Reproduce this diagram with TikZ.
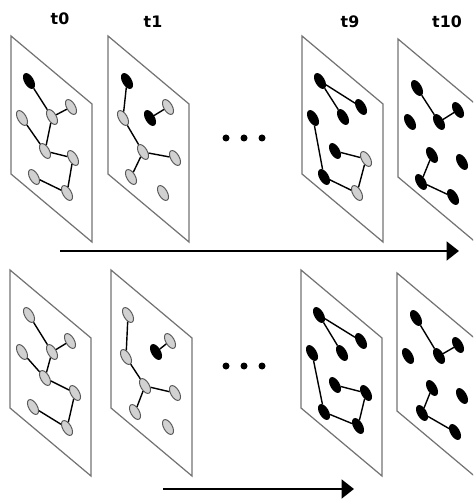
\documentclass[tikz,border=0pt]{standalone}
\usepackage{fontspec}
\setsansfont{DejaVu Sans}
\usetikzlibrary{shapes.geometric,arrows.meta}

\tikzset{
    frame/.style={draw=black!55, line width=0.7pt},
    gnode/.style={ellipse, draw=black!65, fill=black!18, line width=0.55pt,
        minimum width=0.17cm, minimum height=0.33cm, inner sep=0pt, rotate=30},
    bnode/.style={gnode, draw=black, fill=black},
    link/.style={line width=0.8pt},
    lbl/.style={font=\sffamily\bfseries\fontsize{9}{10}\selectfont},
    timearrow/.style={line width=1.7pt, -{Triangle[length=7pt,width=10.5pt]}}
}

\begin{document}
\begin{tikzpicture}[x=0.02cm, y=-0.02cm]

% Parameters
\def\panelW{81}          % Horizontal run of a panel
\def\panelD{68}          % Drop of the top edge
\def\panelH{138}         % Height of a panel

\clip (0,0) rectangle (473,499);

% Panels (top row, then bottom row)
\foreach \px/\py in {11/36,108/36,302/36,398/39,10/270,111/270,301/270,397/273} {
    \draw[frame] (\px,\py) -- ++(\panelW,\panelD) -- ++(0,\panelH)
        -- ++(-\panelW,-\panelD) -- cycle;
}

% Time labels
\node[lbl] (l0) at (60,19) {t0};
\node[lbl] (l1) at (153,22) {t1};
\node[lbl] (l9) at (350,22) {t9};
\node[lbl] (l10) at (447,22) {t10};

% Top row, t0
\node[bnode] (taa) at (29,81) {};
\node[gnode] (tab) at (71,107) {};
\node[gnode] (tac) at (52,117) {};
\node[gnode] (tad) at (22,118) {};
\node[gnode] (tae) at (45,151) {};
\node[gnode] (taf) at (73,158) {};
\node[gnode] (tag) at (34,177) {};
\node[gnode] (tah) at (67,193) {};
\foreach \u/\v in {a/c,c/b,d/e,c/e,e/f,f/h,g/h}
    \draw[link] (ta\u) -- (ta\v);

% Top row, t1
\node[bnode] (tba) at (127,81) {};
\node[gnode] (tbb) at (168,107) {};
\node[bnode] (tbk) at (150,118) {};
\node[gnode] (tbc) at (123,118) {};
\node[gnode] (tbe) at (143,152) {};
\node[gnode] (tbf) at (175,158) {};
\node[gnode] (tbg) at (131,177) {};
\node[gnode] (tbh) at (163,193) {};
\foreach \u/\v in {a/c,b/k,c/e,e/f,e/g}
    \draw[link] (tb\u) -- (tb\v);

% Top row, t9
\node[bnode] (tca) at (320,81) {};
\node[bnode] (tcb) at (361,107) {};
\node[bnode] (tcc) at (343,117) {};
\node[bnode] (tcd) at (313,118) {};
\node[bnode] (tce) at (335,151) {};
\node[gnode] (tcf) at (366,159) {};
\node[bnode] (tcg) at (324,177) {};
\node[gnode] (tch) at (357,193) {};
\foreach \u/\v in {a/b,a/c,d/g,e/f,f/h,g/h}
    \draw[link] (tc\u) -- (tc\v);

% Top row, t10
\node[bnode] (tda) at (417,88) {};
\node[bnode] (tdb) at (458,110) {};
\node[bnode] (tdc) at (439,122) {};
\node[bnode] (tdd) at (410,122) {};
\node[bnode] (tde) at (432,155) {};
\node[bnode] (tdf) at (462,162) {};
\node[bnode] (tdg) at (421,182) {};
\node[bnode] (tdh) at (453,197) {};
\foreach \u/\v in {a/c,c/b,e/g,g/h}
    \draw[link] (td\u) -- (td\v);

% Bottom row, t0
\node[gnode] (baa) at (29,315) {};
\node[gnode] (bab) at (70,341) {};
\node[gnode] (bac) at (52,352) {};
\node[gnode] (bad) at (22,352) {};
\node[gnode] (bae) at (45,378) {};
\node[gnode] (baf) at (75,393) {};
\node[gnode] (bag) at (33,407) {};
\node[gnode] (bah) at (67,428) {};
\foreach \u/\v in {a/c,c/b,d/e,c/e,e/f,f/h,g/h}
    \draw[link] (ba\u) -- (ba\v);

% Bottom row, t1
\node[gnode] (bba) at (128,315) {};
\node[gnode] (bbb) at (170,341) {};
\node[bnode] (bbk) at (156,352) {};
\node[gnode] (bbc) at (126,357) {};
\node[gnode] (bbe) at (145,386) {};
\node[gnode] (bbf) at (175,393) {};
\node[gnode] (bbg) at (135,412) {};
\node[gnode] (bbh) at (168,427) {};
\foreach \u/\v in {a/c,b/k,c/e,e/f,e/g}
    \draw[link] (bb\u) -- (bb\v);

% Bottom row, t9
\node[bnode] (bca) at (319,315) {};
\node[bnode] (bcb) at (361,341) {};
\node[bnode] (bcc) at (342,353) {};
\node[bnode] (bcd) at (312,353) {};
\node[bnode] (bce) at (335,385) {};
\node[bnode] (bcf) at (366,393) {};
\node[bnode] (bcg) at (324,412) {};
\node[bnode] (bch) at (358,426) {};
\foreach \u/\v in {a/b,a/c,d/g,e/f,f/h,g/h}
    \draw[link] (bc\u) -- (bc\v);

% Bottom row, t10
\node[bnode] (bda) at (416,318) {};
\node[bnode] (bdb) at (458,345) {};
\node[bnode] (bdc) at (439,356) {};
\node[bnode] (bdd) at (408,356) {};
\node[bnode] (bde) at (432,388) {};
\node[bnode] (bdf) at (462,396) {};
\node[bnode] (bdg) at (422,413) {};
\node[bnode] (bdh) at (455,432) {};
\foreach \u/\v in {a/c,c/b,e/g,g/h}
    \draw[link] (bd\u) -- (bd\v);

% Gaps in time
\foreach \y in {138,366} {
    \foreach \x in {226,244,262} {
        \fill (\x,\y) circle[radius=3.5];
    }
}

% Time arrows
\coordinate (ta0) at (60,251);
\coordinate (ta1) at (459,251);
\coordinate (ba0) at (163,489);
\coordinate (ba1) at (354,489);
\draw[timearrow] (ta0) -- (ta1);
\draw[timearrow] (ba0) -- (ba1);

\end{tikzpicture}
\end{document}
